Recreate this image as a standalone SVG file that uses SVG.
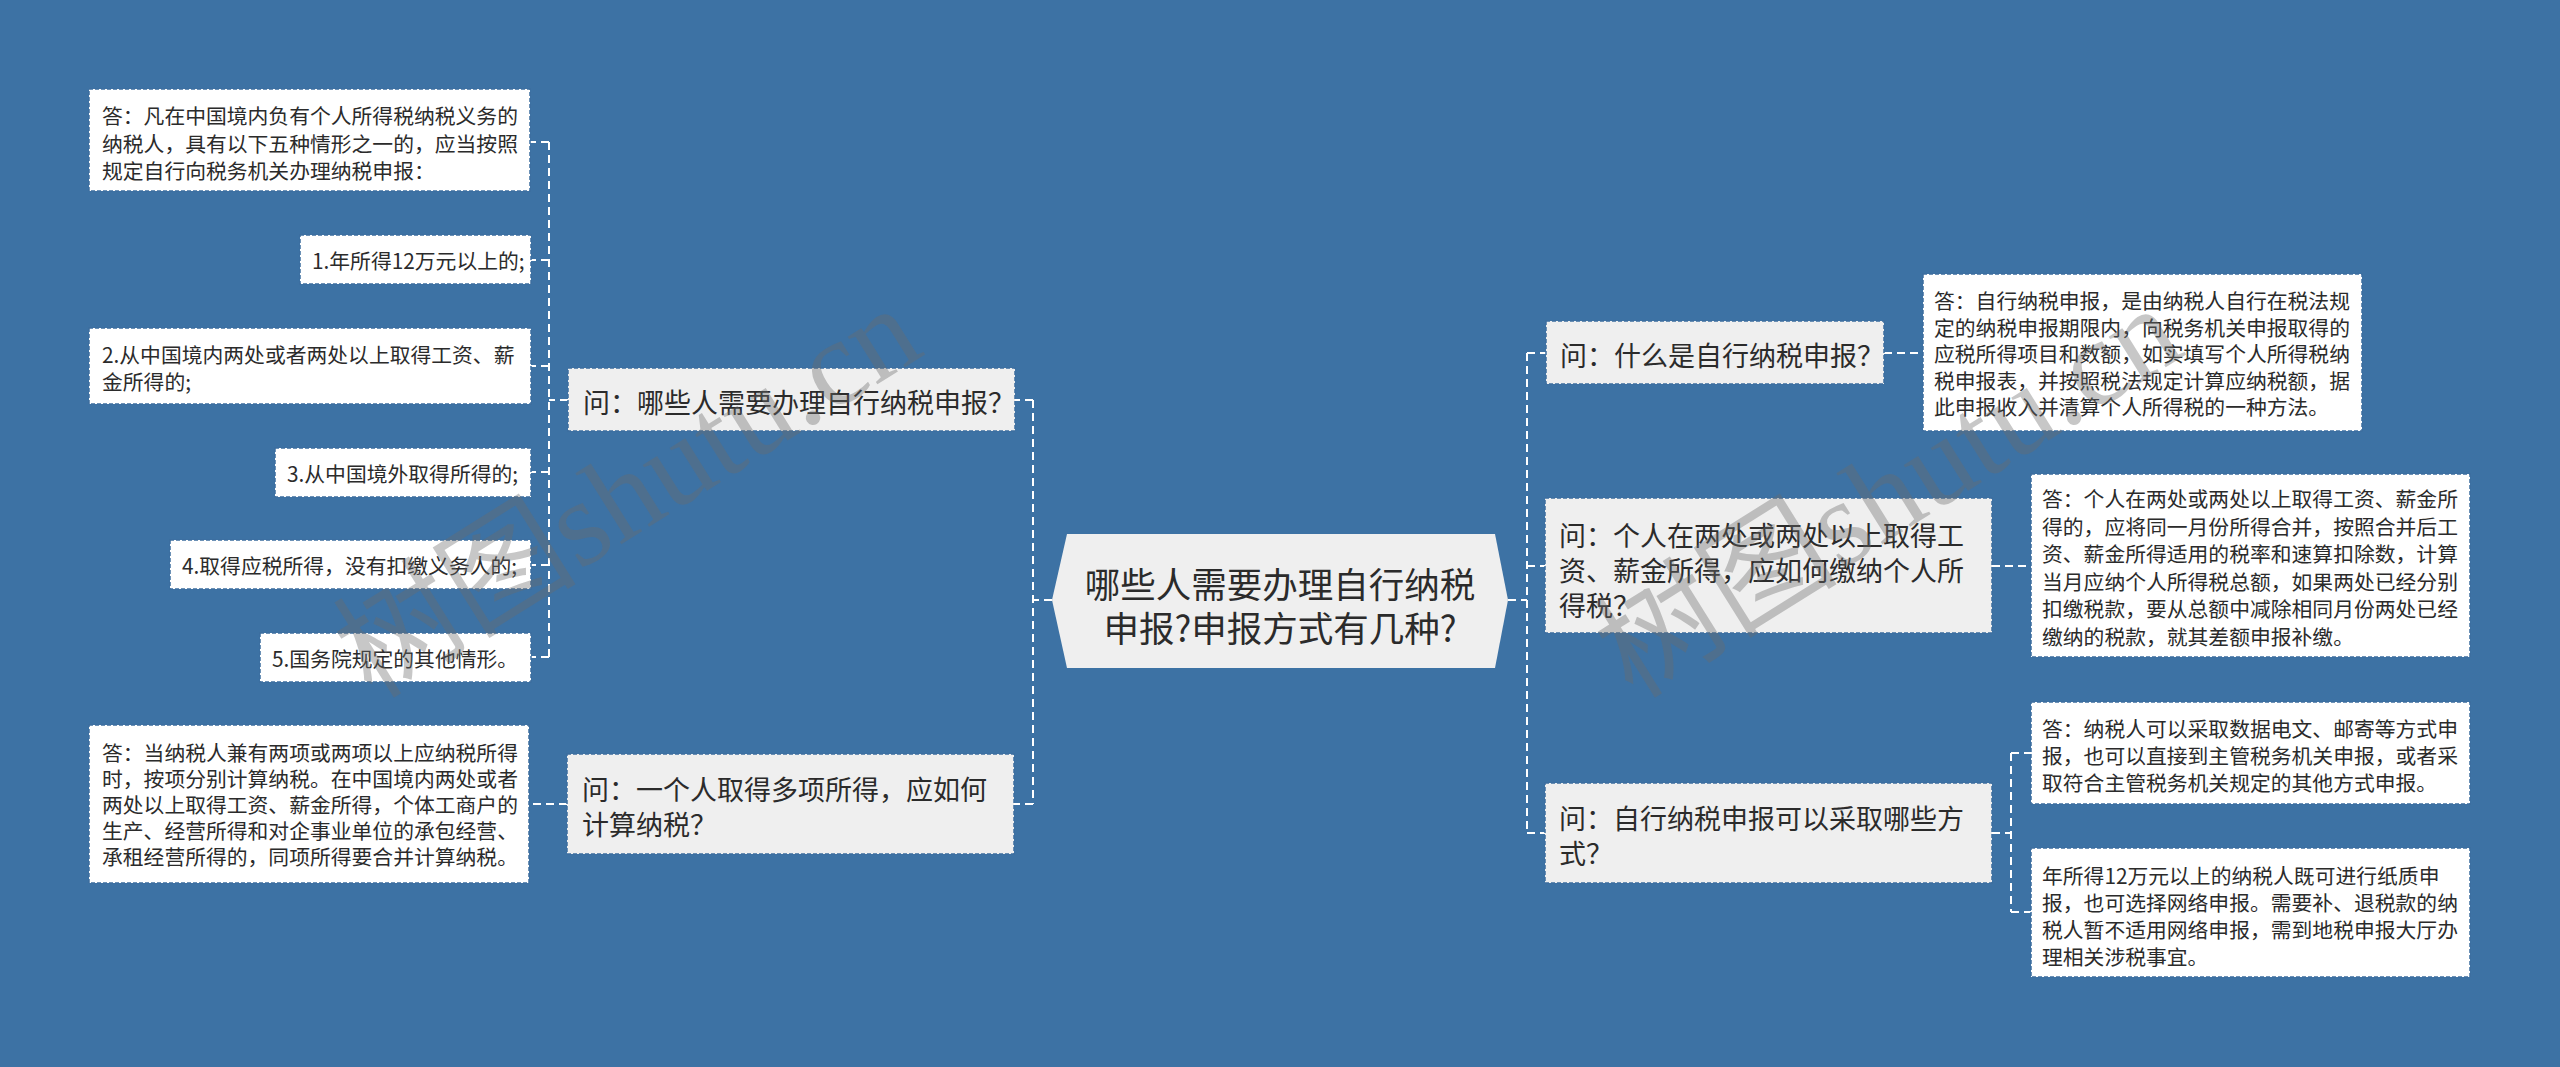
<svg xmlns="http://www.w3.org/2000/svg" width="2560" height="1067" viewBox="0 0 2560 1067">
<style>
  .bg{fill:#3d72a4}
  .conn path{fill:none;stroke:#ffffff;stroke-width:2;stroke-dasharray:8 5}
  .q rect{fill:#efefef;stroke:#3d6e9e;stroke-width:1.5;stroke-dasharray:4 2}
  .a rect{fill:#ffffff;stroke:#3d6e9e;stroke-width:1.5;stroke-dasharray:4 2}
  text{font-family:"Noto Sans CJK SC","Noto Sans",sans-serif;fill:#2b2b2b;dominant-baseline:central}
  .qt{font-size:27px}
  .at{font-size:20.8px}
  .ct{font-size:35.5px;text-anchor:middle}
  .wm{font-family:"Liberation Serif","Noto Sans CJK SC",serif;font-size:122px;fill:#6b6b6b;fill-opacity:0.38;dominant-baseline:auto}
</style>
<rect class="bg" x="0" y="0" width="2560" height="1067"/>

<g id="connectors" class="conn">
  <path d="M1052,600 H1033 M1033,400 V804 M1033,400 H1015 M1033,804 H1014"/>
  <path d="M568,400 H549 M549,142 V657 M549,142 H530 M549,260 H531 M549,366 H531 M549,472 H531 M549,565 H531 M549,657 H531"/>
  <path d="M567,804 H529"/>
  <path d="M1508,600 H1527 M1527,353 V833 M1527,353 H1546 M1527,566 H1545 M1527,833 H1545"/>
  <path d="M1884,353 H1923"/>
  <path d="M1992,566 H2031"/>
  <path d="M1992,833 H2011 M2011,753 V912 M2011,753 H2031 M2011,912 H2031"/>
</g>

<g id="center">
  <polygon points="1052,600 1067,534 1495,534 1508,600 1495,668 1067,668" fill="#efefef"/>
  <text class="ct"><tspan x="1280" y="582">哪些人需要办理自行纳税</tspan><tspan x="1280" y="626">申报?申报方式有几种?</tspan></text>
</g>

<g id="q1" class="q">
  <rect x="568" y="368" width="447" height="63"/>
  <text class="qt"><tspan x="583" y="401">问：哪些人需要办理自行纳税申报？</tspan></text>
</g>
<g id="q1a0" class="a">
  <rect x="89" y="89" width="441" height="102"/>
  <text class="at"><tspan x="102" y="115">答：凡在中国境内负有个人所得税纳税义务的</tspan><tspan x="102" y="142.5">纳税人，具有以下五种情形之一的，应当按照</tspan><tspan x="102" y="170">规定自行向税务机关办理纳税申报：</tspan></text>
</g>
<g id="q1a1" class="a">
  <rect x="300" y="235" width="231" height="49"/>
  <text class="at"><tspan x="312" y="260">1.年所得12万元以上的;</tspan></text>
</g>
<g id="q1a2" class="a">
  <rect x="89" y="328" width="442" height="76"/>
  <text class="at"><tspan x="102" y="354">2.从中国境内两处或者两处以上取得工资、薪</tspan><tspan x="102" y="381">金所得的;</tspan></text>
</g>
<g id="q1a3" class="a">
  <rect x="275" y="448" width="256" height="49"/>
  <text class="at"><tspan x="287" y="473">3.从中国境外取得所得的;</tspan></text>
</g>
<g id="q1a4" class="a">
  <rect x="170" y="540" width="361" height="49"/>
  <text class="at"><tspan x="182" y="565">4.取得应税所得，没有扣缴义务人的;</tspan></text>
</g>
<g id="q1a5" class="a">
  <rect x="260" y="633" width="271" height="49"/>
  <text class="at"><tspan x="272" y="658">5.国务院规定的其他情形。</tspan></text>
</g>

<g id="q2" class="q">
  <rect x="567" y="754" width="447" height="100"/>
  <text class="qt"><tspan x="582" y="788">问：一个人取得多项所得，应如何</tspan><tspan x="582" y="823">计算纳税？</tspan></text>
</g>
<g id="q2a0" class="a">
  <rect x="89" y="725" width="440" height="158"/>
  <text class="at"><tspan x="102" y="752">答：当纳税人兼有两项或两项以上应纳税所得</tspan><tspan x="102" y="778">时，按项分别计算纳税。在中国境内两处或者</tspan><tspan x="102" y="804">两处以上取得工资、薪金所得，个体工商户的</tspan><tspan x="102" y="830">生产、经营所得和对企事业单位的承包经营、</tspan><tspan x="102" y="856">承租经营所得的，同项所得要合并计算纳税。</tspan></text>
</g>

<g id="q3" class="q">
  <rect x="1546" y="321" width="338" height="63"/>
  <text class="qt"><tspan x="1560" y="354">问：什么是自行纳税申报？</tspan></text>
</g>
<g id="q3a0" class="a">
  <rect x="1923" y="274" width="439" height="157"/>
  <text class="at"><tspan x="1934" y="300">答：自行纳税申报，是由纳税人自行在税法规</tspan><tspan x="1934" y="326.5">定的纳税申报期限内，向税务机关申报取得的</tspan><tspan x="1934" y="353">应税所得项目和数额，如实填写个人所得税纳</tspan><tspan x="1934" y="379.5">税申报表，并按照税法规定计算应纳税额，据</tspan><tspan x="1934" y="406">此申报收入并清算个人所得税的一种方法。</tspan></text>
</g>

<g id="q4" class="q">
  <rect x="1545" y="498" width="447" height="135"/>
  <text class="qt"><tspan x="1559" y="534">问：个人在两处或两处以上取得工</tspan><tspan x="1559" y="569">资、薪金所得，应如何缴纳个人所</tspan><tspan x="1559" y="604">得税？</tspan></text>
</g>
<g id="q4a0" class="a">
  <rect x="2031" y="474" width="439" height="183"/>
  <text class="at"><tspan x="2042" y="498">答：个人在两处或两处以上取得工资、薪金所</tspan><tspan x="2042" y="525.5">得的，应将同一月份所得合并，按照合并后工</tspan><tspan x="2042" y="553">资、薪金所得适用的税率和速算扣除数，计算</tspan><tspan x="2042" y="580.5">当月应纳个人所得税总额，如果两处已经分别</tspan><tspan x="2042" y="608">扣缴税款，要从总额中减除相同月份两处已经</tspan><tspan x="2042" y="635.5">缴纳的税款，就其差额申报补缴。</tspan></text>
</g>

<g id="q5" class="q">
  <rect x="1545" y="783" width="447" height="100"/>
  <text class="qt"><tspan x="1559" y="817">问：自行纳税申报可以采取哪些方</tspan><tspan x="1559" y="852">式？</tspan></text>
</g>
<g id="q5a0" class="a">
  <rect x="2031" y="702" width="439" height="102"/>
  <text class="at"><tspan x="2042" y="728">答：纳税人可以采取数据电文、邮寄等方式申</tspan><tspan x="2042" y="755">报，也可以直接到主管税务机关申报，或者采</tspan><tspan x="2042" y="782">取符合主管税务机关规定的其他方式申报。</tspan></text>
</g>
<g id="q5a1" class="a">
  <rect x="2031" y="848" width="439" height="129"/>
  <text class="at"><tspan x="2042" y="875">年所得12万元以上的纳税人既可进行纸质申</tspan><tspan x="2042" y="902">报，也可选择网络申报。需要补、退税款的纳</tspan><tspan x="2042" y="929">税人暂不适用网络申报，需到地税申报大厅办</tspan><tspan x="2042" y="956">理相关涉税事宜。</tspan></text>
</g>

<g id="watermarks">
  <text class="wm" transform="translate(372,700) rotate(-32)">树图shutu.cn</text>
  <text class="wm" transform="translate(1633,700) rotate(-32)">树图shutu.cn</text>
</g>
</svg>
